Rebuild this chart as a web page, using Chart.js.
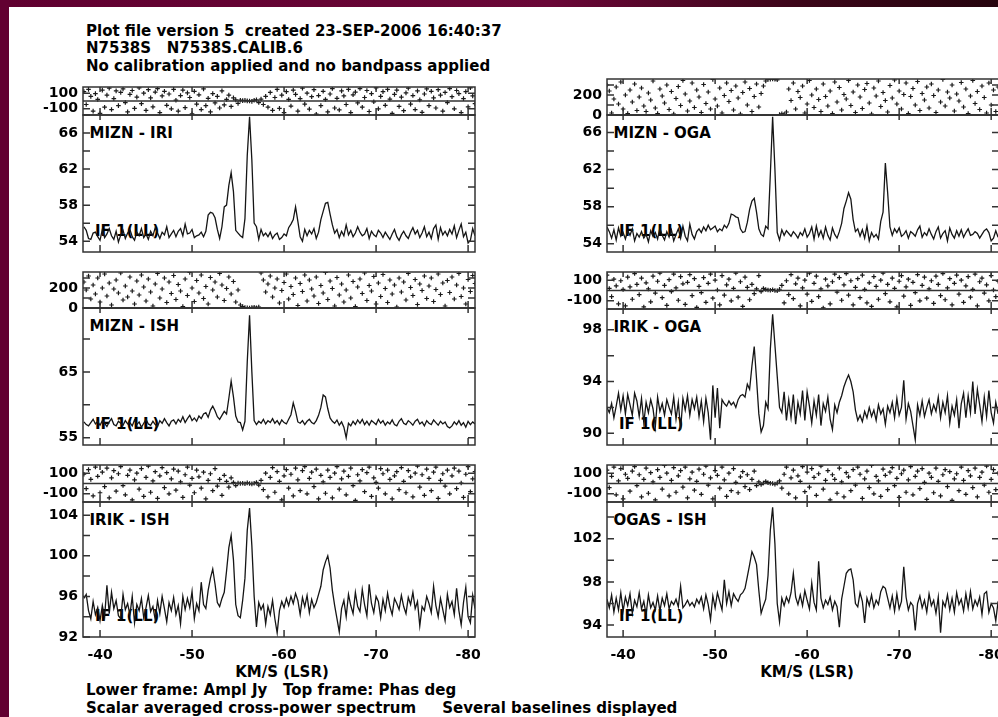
<!DOCTYPE html>
<html>
<head>
<meta charset="utf-8">
<title>N7538S cross-power spectra</title>
<script src="https://cdn.jsdelivr.net/npm/chart.js@4/dist/chart.umd.min.js"></script>
<style>
  body { margin: 0; background: #fff; }
  #page { position: relative; width: 998px; height: 717px; overflow: hidden; background: #fff; }
  #topbar { position: absolute; left: 0; top: 0; width: 998px; height: 7px;
    background: linear-gradient(90deg, #600030 0%, #6a0737 55%, #3c0619 80%, #26040e 100%); }
  #leftbar { position: absolute; left: 0; top: 0; width: 9px; height: 717px; background: #620031; }
  .txt { position: absolute; font: bold 15px "DejaVu Sans", sans-serif; line-height: 17.5px;
    white-space: pre; color: #000; z-index: 1; }
  canvas { position: absolute; z-index: 2; }
</style>
</head>
<body>
<div id="page">
  <div id="topbar"></div>
  <div id="leftbar"></div>
  <div class="txt" style="left:86px;top:22.8px">Plot file version 5  created 23-SEP-2006 16:40:37</div>
  <div class="txt" style="left:86px;top:40.1px">N7538S   N7538S.CALIB.6</div>
  <div class="txt" style="left:86px;top:57.8px">No calibration applied and no bandpass applied</div>
  <div class="txt" style="left:86px;top:681.8px">Lower frame: Ampl Jy   Top frame: Phas deg</div>
  <div class="txt" style="left:86px;top:700.1px">Scalar averaged cross-power spectrum     Several baselines displayed</div>
</div>
<script>
// channel velocities (km/s, LSR)
const VELOCITY = [
  -38.25,-38.5,-38.75,-39,-39.25,-39.5,-39.75,-40,-40.25,-40.5,
  -40.75,-41,-41.25,-41.5,-41.75,-42,-42.25,-42.5,-42.75,-43,
  -43.25,-43.5,-43.75,-44,-44.25,-44.5,-44.75,-45,-45.25,-45.5,
  -45.75,-46,-46.25,-46.5,-46.75,-47,-47.25,-47.5,-47.75,-48,
  -48.25,-48.5,-48.75,-49,-49.25,-49.5,-49.75,-50,-50.25,-50.5,
  -50.75,-51,-51.25,-51.5,-51.75,-52,-52.25,-52.5,-52.75,-53,
  -53.25,-53.5,-53.75,-54,-54.25,-54.5,-54.75,-55,-55.25,-55.5,
  -55.75,-56,-56.25,-56.5,-56.75,-57,-57.25,-57.5,-57.75,-58,
  -58.25,-58.5,-58.75,-59,-59.25,-59.5,-59.75,-60,-60.25,-60.5,
  -60.75,-61,-61.25,-61.5,-61.75,-62,-62.25,-62.5,-62.75,-63,
  -63.25,-63.5,-63.75,-64,-64.25,-64.5,-64.75,-65,-65.25,-65.5,
  -65.75,-66,-66.25,-66.5,-66.75,-67,-67.25,-67.5,-67.75,-68,
  -68.25,-68.5,-68.75,-69,-69.25,-69.5,-69.75,-70,-70.25,-70.5,
  -70.75,-71,-71.25,-71.5,-71.75,-72,-72.25,-72.5,-72.75,-73,
  -73.25,-73.5,-73.75,-74,-74.25,-74.5,-74.75,-75,-75.25,-75.5,
  -75.75,-76,-76.25,-76.5,-76.75,-77,-77.25,-77.5,-77.75,-78,
  -78.25,-78.5,-78.75,-79,-79.25,-79.5,-79.75,-80,-80.25,-80.5,
  -80.75
];

// amplitudes (Jy)
const AMP_MIZN_IRI = [
  55.6,55.2,54.3,54.2,54.9,55.0,54.5,54.1,55.3,54.4,
  54.8,55.4,54.6,54.2,55.1,53.9,54.7,55.2,54.3,54.9,
  55.3,54.5,54.1,55.0,54.6,55.4,54.4,54.8,54.2,55.1,
  54.6,55.5,54.9,54.3,55.0,54.7,55.6,54.4,54.8,55.2,
  54.5,55.1,55.4,54.6,55.9,54.8,54.9,55.3,54.4,54.6,
  54.7,55.0,54.5,55.1,56.9,57.2,57.1,56.6,55.3,54.3,
  55.6,57.8,58.0,60.2,61.6,59.5,55.2,54.9,54.6,54.4,
  56.5,63.5,67.8,63.0,56.0,55.6,54.2,55.3,54.6,54.9,
  54.5,55.0,54.3,54.7,54.9,54.2,54.4,54.8,54.6,55.5,
  55.9,56.4,57.8,56.2,54.5,54.0,55.3,54.6,55.2,54.8,
  55.4,54.3,55.0,56.4,57.3,58.2,58.3,57.0,55.8,54.9,
  55.3,54.4,55.1,54.6,55.8,54.7,55.2,54.5,54.9,55.6,
  55.0,54.6,54.8,55.4,54.3,55.1,54.7,54.5,55.2,54.9,
  54.4,55.0,54.6,54.2,54.8,55.3,54.5,54.1,54.7,55.1,
  54.6,54.3,55.0,55.5,54.8,55.2,54.4,54.9,55.6,54.5,
  55.0,54.3,55.4,55.8,54.2,55.5,54.7,55.1,54.6,55.3,
  54.8,55.7,54.4,55.2,55.9,54.5,55.0,53.8,54.1,55.4,
  54.6
];
const AMP_MIZN_ISH = [
  57.4,57.0,56.8,57.3,57.8,57.1,57.5,56.9,57.6,57.2,
  56.7,57.4,57.9,57.0,56.8,57.5,57.2,56.9,57.6,57.1,
  57.3,56.8,57.7,57.0,57.4,56.6,57.2,57.8,57.1,56.9,
  57.5,57.0,56.7,57.6,57.2,57.9,57.3,56.8,57.5,57.7,
  57.1,57.8,57.4,58.2,57.3,57.9,58.4,57.6,58.0,57.5,
  58.3,57.9,58.6,58.8,58.1,59.2,59.8,59.1,58.2,57.8,
  58.4,59.0,58.6,61.0,63.6,61.2,58.3,57.4,57.3,56.2,
  57.5,66.5,73.6,65.0,57.6,57.0,57.5,57.2,57.8,57.1,
  57.6,57.3,57.9,57.2,57.6,57.0,57.7,57.3,57.1,57.8,
  58.5,60.3,59.0,57.4,57.2,57.6,57.0,57.5,57.8,57.3,
  57.1,57.6,58.4,59.6,61.5,61.2,59.4,58.0,57.5,57.2,
  57.7,56.9,57.4,56.6,55.0,57.2,56.8,57.5,57.0,57.7,
  57.2,57.8,57.0,57.5,56.9,57.6,57.3,57.0,57.8,57.2,
  57.6,56.9,57.4,57.1,57.7,57.0,56.8,57.5,57.9,57.2,
  57.0,57.6,57.3,56.9,57.5,57.8,57.1,57.4,56.8,57.6,
  57.2,57.0,57.7,57.3,56.9,57.5,57.1,57.4,56.7,56.5,
  56.8,57.4,57.0,57.6,56.9,57.3,56.6,57.5,57.0,57.4,
  57.1
];
const AMP_IRIK_ISH = [
  95.8,96.2,94.6,93.8,95.5,94.2,94.9,93.6,95.1,94.0,
  97.1,94.3,96.4,94.8,95.6,94.1,93.8,96.2,94.7,95.3,
  94.2,96.0,93.4,95.2,94.6,95.8,93.9,94.9,96.1,94.5,
  95.0,93.7,95.6,94.3,96.0,94.8,93.5,95.4,94.6,95.9,
  94.2,95.1,93.3,96.0,94.7,95.8,94.9,96.5,93.8,95.3,
  94.6,97.4,95.2,94.8,96.6,97.8,98.7,97.2,95.4,95.0,
  95.8,96.4,98.5,100.8,102.0,99.6,95.2,94.1,93.9,95.6,
  97.8,102.5,104.7,101.0,96.0,93.0,95.4,94.7,95.2,93.3,
  95.0,94.2,95.6,93.8,92.4,94.6,95.5,94.9,95.8,95.1,
  96.0,95.3,96.3,95.6,94.2,95.9,95.0,96.1,94.4,95.7,
  94.9,95.4,96.2,97.0,98.6,99.4,100.0,98.8,96.6,95.1,
  93.8,92.5,94.8,95.6,94.0,96.2,95.1,94.3,96.4,95.0,
  94.5,96.7,95.2,94.1,97.2,95.3,94.4,96.0,95.5,93.9,
  95.7,94.6,96.3,95.0,94.2,95.8,95.3,94.7,96.1,95.0,
  94.3,95.9,95.2,96.4,94.8,95.5,93.1,95.0,94.6,96.0,
  95.3,94.4,97.0,95.1,94.0,95.8,94.7,93.6,96.2,94.9,
  95.5,94.2,96.8,94.6,93.2,95.4,96.9,94.0,93.4,96.1,
  94.8
];
const AMP_MIZN_OGA = [
  55.8,55.3,54.6,55.5,54.4,55.7,54.8,55.2,54.5,55.4,
  54.9,55.6,54.3,55.1,54.7,55.3,54.6,55.0,54.2,55.4,
  54.8,55.2,54.5,55.7,54.9,54.4,55.3,54.7,55.5,54.3,
  55.0,55.6,54.6,55.9,54.8,54.3,56.1,55.0,54.5,55.3,
  55.6,55.2,55.8,55.4,56.0,55.5,55.7,55.9,55.3,55.6,
  55.4,56.0,55.7,56.2,57.2,57.1,56.9,56.8,55.6,55.2,
  55.3,56.3,57.7,58.6,58.9,57.4,55.6,55.0,54.8,55.9,
  55.6,61.5,67.7,62.0,55.2,54.4,55.5,54.9,55.4,55.1,
  54.8,55.3,55.0,54.6,55.2,54.9,55.6,54.7,55.1,55.8,
  54.5,55.9,54.8,55.4,54.6,55.8,54.9,54.4,55.7,55.0,
  54.6,55.3,56.2,57.8,58.6,59.5,58.8,56.6,55.3,55.6,
  54.8,55.5,54.6,55.9,54.3,55.2,54.7,55.0,54.5,56.4,
  57.4,62.7,59.5,55.8,54.9,55.6,55.2,55.7,54.8,55.0,
  55.4,54.6,55.3,55.1,54.8,55.5,55.9,54.7,55.2,54.9,
  55.6,55.0,54.5,55.3,55.8,54.6,55.1,55.4,54.3,55.7,
  55.0,54.6,55.4,54.8,55.5,54.7,55.2,55.6,54.9,55.0,
  55.3,55.1,54.6,55.0,55.4,55.6,55.2,54.3,54.6,55.4,
  54.7
];
const AMP_IRIK_OGA = [
  92.0,91.6,92.3,91.2,92.1,93.1,91.8,92.9,91.5,93.0,
  92.2,91.4,93.1,92.5,91.3,92.7,90.8,92.4,91.6,92.6,
  91.9,90.5,92.8,91.7,92.3,91.4,92.6,92.0,91.5,92.8,
  91.1,92.4,90.3,92.7,91.8,92.9,91.4,92.6,91.9,92.8,
  91.3,92.5,90.9,92.7,91.6,89.5,93.7,91.2,93.5,90.4,
  92.6,92.3,92.1,92.5,92.2,92.4,92.0,92.6,92.9,93.0,
  92.8,93.8,93.4,95.2,96.7,94.2,91.5,90.1,90.6,92.4,
  91.9,96.5,99.2,96.8,94.4,92.0,91.6,93.2,91.0,92.6,
  91.2,93.0,90.7,92.4,91.5,93.3,91.0,93.2,92.1,90.8,
  92.5,91.4,93.0,90.6,92.3,91.7,92.8,91.1,90.3,92.2,
  91.6,92.4,92.9,93.6,94.1,94.5,94.0,93.2,91.8,91.0,
  91.4,90.9,91.7,91.2,92.0,91.3,91.8,91.0,92.2,91.5,
  91.9,90.7,92.1,91.6,92.4,91.2,92.7,91.4,92.0,94.1,
  91.1,92.3,91.7,90.6,89.5,92.2,91.4,92.5,91.3,92.0,
  92.6,91.5,92.2,91.7,92.8,91.2,92.4,91.6,92.9,90.8,
  92.1,91.4,92.6,90.4,92.3,93.1,91.2,92.9,91.6,94.0,
  91.5,93.4,92.2,90.9,92.8,91.3,93.3,91.6,90.8,92.4,
  91.5
];
const AMP_OGAS_ISH = [
  96.4,95.6,96.8,95.2,96.5,95.4,97.0,95.3,96.6,95.8,
  96.9,95.1,96.3,95.7,97.0,95.5,96.2,95.0,96.8,95.6,
  96.1,95.4,96.7,95.3,96.5,95.8,96.9,95.5,96.2,95.9,
  96.4,95.7,97.6,95.6,95.9,96.3,95.8,96.1,95.7,96.4,
  96.0,96.6,95.5,96.8,95.9,94.5,96.7,95.6,97.0,96.2,
  95.4,98.2,96.0,97.1,95.8,96.9,96.5,96.2,96.8,97.0,
  97.4,98.5,99.6,100.8,100.3,99.6,97.2,95.1,95.8,96.4,
  98.6,102.8,104.9,101.5,96.0,94.3,96.5,95.8,96.6,96.1,
  97.0,98.8,96.6,95.9,96.8,95.8,97.2,96.3,95.5,97.9,
  96.1,95.4,99.9,96.5,95.6,96.3,95.9,96.6,95.4,96.2,
  95.7,93.8,96.4,97.6,98.8,99.1,99.2,98.2,96.0,95.7,
  97.0,96.2,94.2,96.5,95.8,96.8,95.6,96.3,95.9,97.1,
  97.6,97.4,96.5,95.6,96.7,95.3,96.9,95.5,96.2,99.4,
  96.6,95.4,96.1,95.8,93.5,96.0,96.7,95.6,96.3,95.2,
  96.9,95.8,96.3,95.1,96.6,93.3,96.2,95.7,96.8,95.4,
  96.5,95.2,97.0,95.9,96.4,95.3,96.9,95.6,97.1,95.5,
  96.3,95.8,96.6,95.0,96.9,97.1,95.2,96.0,95.6,94.4,
  96.2
];

// phases (deg)
const PHASE_MIZN_IRI = [
  120,-45,150,60,-130,95,20,-160,140,-80,
  75,165,-110,30,130,-60,110,155,-20,-140,
  85,135,-95,50,170,-35,100,-120,145,40,
  -75,115,160,-150,65,125,-55,90,-100,150,
  10,-130,70,140,-85,105,45,-165,125,-40,
  80,-110,155,-60,35,-140,95,-25,60,-90,
  130,-50,20,75,-70,40,15,-30,10,5,
  8,2,0,-5,10,15,-20,25,-45,60,
  -80,110,-120,45,150,-95,75,-150,120,20,
  -65,140,85,-130,30,165,-40,100,-105,55,
  145,-170,70,-60,125,20,-140,90,160,-90,
  35,-115,130,65,-45,150,-150,80,115,-25,
  160,-80,45,135,-135,95,-10,170,-100,60,
  120,-55,150,25,-160,85,140,-70,50,-125,
  105,165,-40,70,-110,130,15,-145,90,155,
  -60,125,40,-90,145,75,-130,110,-20,160,
  55,-100,135,95,-150,30,120,-75,170,65,
  -35
];
const PHASE_MIZN_ISH = [
  260,180,320,90,230,140,300,60,200,340,
  120,250,30,190,280,150,350,80,220,110,
  310,170,40,270,130,330,210,70,290,160,
  20,240,345,100,190,300,55,260,145,325,
  85,235,170,15,290,125,355,200,65,275,
  150,330,95,215,40,305,180,260,110,345,
  230,75,195,310,140,265,60,180,30,15,
  5,2,0,4,8,3,10,350,280,160,
  240,320,110,200,290,50,175,255,340,90,
  215,135,300,25,245,165,330,70,280,190,
  120,310,45,225,150,355,85,270,195,20,
  305,130,240,60,180,330,100,265,15,210,
  290,145,350,75,225,170,315,40,250,115,
  335,195,55,280,140,230,10,300,160,260,
  80,345,205,125,285,35,240,175,320,95,
  220,300,65,185,340,135,250,20,275,155,
  310,90,230,345,115,200,40,285,165,325,
  245
];
const PHASE_IRIK_ISH = [
  90,-50,135,40,-120,160,70,-90,110,-30,
  150,-140,55,125,-75,95,165,-20,-110,80,
  130,-160,35,100,-55,145,-125,60,170,-85,
  25,115,-145,75,155,-40,105,-100,45,140,
  -65,120,15,-135,85,160,-15,50,-90,130,
  65,-45,110,-150,30,95,-70,145,-25,40,
  -115,80,20,-35,55,10,-20,5,0,3,
  -2,6,0,-4,2,10,-15,30,-60,100,
  -130,60,155,-85,115,20,-160,75,135,-45,
  90,-120,150,35,-70,125,165,-100,50,110,
  -30,140,-150,80,15,-95,130,60,-140,100,
  165,-55,45,120,-110,70,150,-20,-165,85,
  25,135,-80,105,160,-125,55,10,-45,145,
  95,-100,130,40,-150,75,115,-60,155,20,
  -90,125,65,-130,100,170,-35,85,-115,140,
  50,-70,110,160,-145,30,95,-25,130,-100,
  75,150,-50,120,5,-135,90,165,-80,45,
  115
];
const PHASE_MIZN_OGA = [
  300,240,20,160,280,110,330,60,200,15,
  250,130,310,45,180,270,90,35,220,150,
  340,70,15,260,190,120,300,55,235,10,
  165,285,95,345,210,40,140,320,75,250,
  180,25,305,115,230,60,355,160,90,270,
  20,195,320,135,245,50,290,170,10,225,
  330,100,265,35,185,310,80,215,290,340,
  355,358,360,357,352,5,12,8,30,260,
  145,320,60,235,175,290,20,110,345,200,
  75,260,155,35,310,185,90,240,15,330,
  130,275,50,205,160,345,95,230,25,300,
  180,65,255,315,120,10,270,190,340,85,
  225,145,30,295,170,350,110,240,60,205,
  320,15,185,265,100,335,45,215,150,280,
  70,310,195,25,250,130,355,90,230,170,
  300,40,210,140,325,80,260,15,190,345,
  115,235,55,290,175,20,320,100,250,35,
  280
];
const PHASE_IRIK_OGA = [
  150,20,-60,110,45,-130,95,10,-150,130,
  35,-85,165,60,-40,120,-160,75,15,-110,
  140,-25,90,170,-70,50,-145,105,-10,160,
  25,-95,135,65,-135,80,155,-50,115,-165,
  40,-20,125,-115,70,160,-75,100,5,-140,
  145,-45,55,110,-100,20,170,-65,85,-155,
  130,30,-90,60,-30,15,145,-10,20,10,
  5,2,8,0,-3,12,50,-120,95,-40,
  155,-80,65,120,-150,25,100,-35,170,-105,
  70,140,-60,15,-170,110,45,-130,85,160,
  -15,125,-95,55,165,-45,95,-140,30,115,
  -70,150,10,-120,75,-155,135,40,-85,100,
  170,-30,60,-110,120,20,-160,90,145,-55,
  35,110,-145,80,-20,155,-100,50,130,-75,
  15,95,-125,140,60,-50,165,-90,25,115,
  -140,70,150,-35,100,-115,45,135,-65,10,
  160,-150,85,120,-25,55,-100,145,5,-60,
  90
];
const PHASE_OGAS_ISH = [
  130,-40,70,160,-110,25,145,-150,90,50,
  -75,120,165,-20,85,-130,40,150,-95,105,
  15,-160,135,60,-55,175,100,-120,30,155,
  -85,75,125,-35,160,-140,45,110,-65,20,
  140,-105,90,170,-15,55,-150,125,80,-45,
  160,35,-125,100,-70,145,10,-90,65,115,
  -30,85,-60,40,120,-20,15,-10,5,20,
  8,3,0,-6,4,25,-45,90,160,-100,
  55,130,-140,75,20,165,-80,110,-35,145,
  60,-115,95,170,-55,30,125,-160,85,40,
  -95,150,15,-130,105,65,-70,135,-15,160,
  90,-145,45,120,-40,175,-100,70,25,-125,
  140,80,-60,110,155,-20,50,-135,95,130,
  -85,35,165,-110,70,120,-50,145,10,-155,
  100,60,-90,150,20,-120,85,135,-30,115,
  -165,45,95,-70,160,30,-105,125,75,-40,
  150,-130,60,110,-15,170,-85,40,135,-60,
  100
];

// tick labels
const X_TICK_LABELS = [-40, -50, -60, -70, -80];
const PHASE_LABELS_PM = [100, -100];
const PHASE_LABELS_360 = [200, 0];
const LABELS_MIZN_IRI = [66, 62, 58, 54];
const LABELS_MIZN_ISH = [65, 55];
const LABELS_IRIK_ISH = [104, 100, 96, 92];
const LABELS_MIZN_OGA = [66, 62, 58, 54];
const LABELS_IRIK_OGA = [98, 94, 90];
const LABELS_OGAS_ISH = [102, 98, 94];

const BASELINES = ['MIZN - IRI', 'MIZN - ISH', 'IRIK - ISH', 'MIZN - OGA', 'IRIK - OGA', 'OGAS - ISH'];

Chart.defaults.font.family = '"DejaVu Sans", sans-serif';
Chart.defaults.font.weight = 'bold';
Chart.defaults.font.size = 14;
Chart.defaults.color = '#000';

// frame box, inward tick marks and the zero phase line
const framePlugin = {
  id: 'frame',
  afterDatasetsDraw(chart, args, opts) {
    const { ctx, chartArea: a, scales: { x, y } } = chart;
    ctx.save();
    ctx.strokeStyle = '#333';
    ctx.lineWidth = 1.5;
    ctx.strokeRect(a.left, a.top, a.width, a.height);
    ctx.beginPath();
    y.ticks.forEach(t => {
      const py = y.getPixelForValue(t.value);
      ctx.moveTo(a.left, py); ctx.lineTo(a.left + 7, py);
      ctx.moveTo(a.right, py); ctx.lineTo(a.right - 7, py);
    });
    x.ticks.forEach(t => {
      const px = x.getPixelForValue(t.value);
      ctx.moveTo(px, a.bottom); ctx.lineTo(px, a.bottom - 7);
      ctx.moveTo(px, a.top); ctx.lineTo(px, a.top + 5);
    });
    if (opts.zero && y.min <= 0 && y.max > 0) {
      const pz = y.getPixelForValue(0);
      ctx.moveTo(a.left, pz); ctx.lineTo(a.right, pz);
    }
    ctx.stroke();
    ctx.restore();
  }
};

const page = document.getElementById('page');
const PAD_L = 50, PAD_T = 10, PAD_R = 14, PAD_B = 10, XLAB_H = 30;

function addText(str, left, baseline, center) {
  const d = document.createElement('div');
  d.className = 'txt';
  d.textContent = str;
  d.style.left = left + 'px';
  d.style.top = (baseline - 13.9) + 'px';
  if (center) d.style.transform = 'translateX(-50%)';
  page.appendChild(d);
}

function addPanel(p) {
  const isPhase = p.kind === 'phase';
  const cv = document.createElement('canvas');
  cv.width = PAD_L + p.w + PAD_R;
  cv.height = PAD_T + p.h + (p.xAxis ? XLAB_H : PAD_B);
  cv.style.left = (p.x - PAD_L) + 'px';
  cv.style.top = (p.y - PAD_T) + 'px';
  page.appendChild(cv);

  const dataset = isPhase ? {
    data: VELOCITY.map((v, i) => ({ x: v, y: p.values[i] })),
    pointStyle: 'cross', pointRadius: 2.3, borderWidth: 1.2,
    borderColor: '#1a1a1a', backgroundColor: '#1a1a1a', showLine: false
  } : {
    data: VELOCITY.map((v, i) => ({ x: v, y: p.values[i] })),
    borderColor: '#151515', borderWidth: 1.3, pointRadius: 0, tension: 0, fill: false
  };

  new Chart(cv, {
    type: isPhase ? 'scatter' : 'line',
    data: { datasets: [dataset] },
    options: {
      responsive: false, animation: false, devicePixelRatio: 1,
      layout: { padding: { left: 0, top: PAD_T, right: PAD_R, bottom: p.xAxis ? 0 : PAD_B } },
      plugins: { legend: { display: false }, tooltip: { enabled: false }, frame: { zero: isPhase } },
      scales: {
        x: {
          type: 'linear', reverse: true, min: p.xMin, max: p.xMax,
          grid: { display: false, drawTicks: false }, border: { display: false },
          ticks: {
            display: !!p.xAxis, stepSize: 10, includeBounds: false, padding: 10,
            maxRotation: 0, autoSkip: false,
            callback: v => X_TICK_LABELS.includes(v) ? String(v) : ''
          },
          afterFit: s => { s.height = p.xAxis ? XLAB_H : 0; s.paddingLeft = 0; s.paddingRight = 0; }
        },
        y: {
          type: 'linear', min: p.yMin, max: p.yMax,
          grid: { display: false, drawTicks: false }, border: { display: false },
          ticks: {
            stepSize: p.step, includeBounds: false, padding: 5, autoSkip: false,
            callback: v => p.labels.includes(v) ? String(v) : ''
          },
          afterFit: s => { s.width = PAD_L; s.paddingTop = 0; s.paddingBottom = 0; }
        }
      }
    },
    plugins: [framePlugin]
  });

  if (!isPhase) {
    addText(p.name, p.x + 6.5, p.y + 23.5);
    addText('IF 1(LL)', p.x + 12, p.y + p.h - 15.5);
  }
}

const LEFT = { x: 83, w: 392, xMin: -80.75, xMax: -38.15 };
const RIGHT = { x: 607, w: 392, xMin: -80.85, xMax: -38.25 };

const PANELS = [
  { col: LEFT,  kind: 'phase', y: 87,  h: 28,  yMin: -180, yMax: 180, step: 100, labels: PHASE_LABELS_PM,  values: PHASE_MIZN_IRI },
  { col: LEFT,  kind: 'amp',   y: 115, h: 137, yMin: 52.8, yMax: 68,  step: 2,   labels: LABELS_MIZN_IRI, values: AMP_MIZN_IRI, name: BASELINES[0] },
  { col: LEFT,  kind: 'phase', y: 272, h: 36,  yMin: 0,    yMax: 360, step: 100, labels: PHASE_LABELS_360, values: PHASE_MIZN_ISH },
  { col: LEFT,  kind: 'amp',   y: 308, h: 137, yMin: 53.9, yMax: 74.7, step: 5,  labels: LABELS_MIZN_ISH, values: AMP_MIZN_ISH, name: BASELINES[1] },
  { col: LEFT,  kind: 'phase', y: 465, h: 37,  yMin: -180, yMax: 180, step: 100, labels: PHASE_LABELS_PM,  values: PHASE_IRIK_ISH },
  { col: LEFT,  kind: 'amp',   y: 502, h: 135, yMin: 92,   yMax: 105.3, step: 2, labels: LABELS_IRIK_ISH, values: AMP_IRIK_ISH, name: BASELINES[2], xAxis: true },
  { col: RIGHT, kind: 'phase', y: 79,  h: 36,  yMin: 0,    yMax: 360, step: 100, labels: PHASE_LABELS_360, values: PHASE_MIZN_OGA },
  { col: RIGHT, kind: 'amp',   y: 115, h: 137, yMin: 53.1, yMax: 67.9, step: 2,  labels: LABELS_MIZN_OGA, values: AMP_MIZN_OGA, name: BASELINES[3] },
  { col: RIGHT, kind: 'phase', y: 272, h: 37,  yMin: -180, yMax: 180, step: 100, labels: PHASE_LABELS_PM,  values: PHASE_IRIK_OGA },
  { col: RIGHT, kind: 'amp',   y: 309, h: 136, yMin: 89.1, yMax: 99.6, step: 2,  labels: LABELS_IRIK_OGA, values: AMP_IRIK_OGA, name: BASELINES[4] },
  { col: RIGHT, kind: 'phase', y: 465, h: 37,  yMin: -180, yMax: 180, step: 100, labels: PHASE_LABELS_PM,  values: PHASE_OGAS_ISH },
  { col: RIGHT, kind: 'amp',   y: 502, h: 135, yMin: 92.9, yMax: 105.4, step: 2, labels: LABELS_OGAS_ISH, values: AMP_OGAS_ISH, name: BASELINES[5], xAxis: true }
];

PANELS.forEach(p => addPanel(Object.assign({}, p, { x: p.col.x, w: p.col.w, xMin: p.col.xMin, xMax: p.col.xMax })));

addText('KM/S (LSR)', 282, 677.7, true);
addText('KM/S (LSR)', 807, 677.7, true);
</script>
</body>
</html>
